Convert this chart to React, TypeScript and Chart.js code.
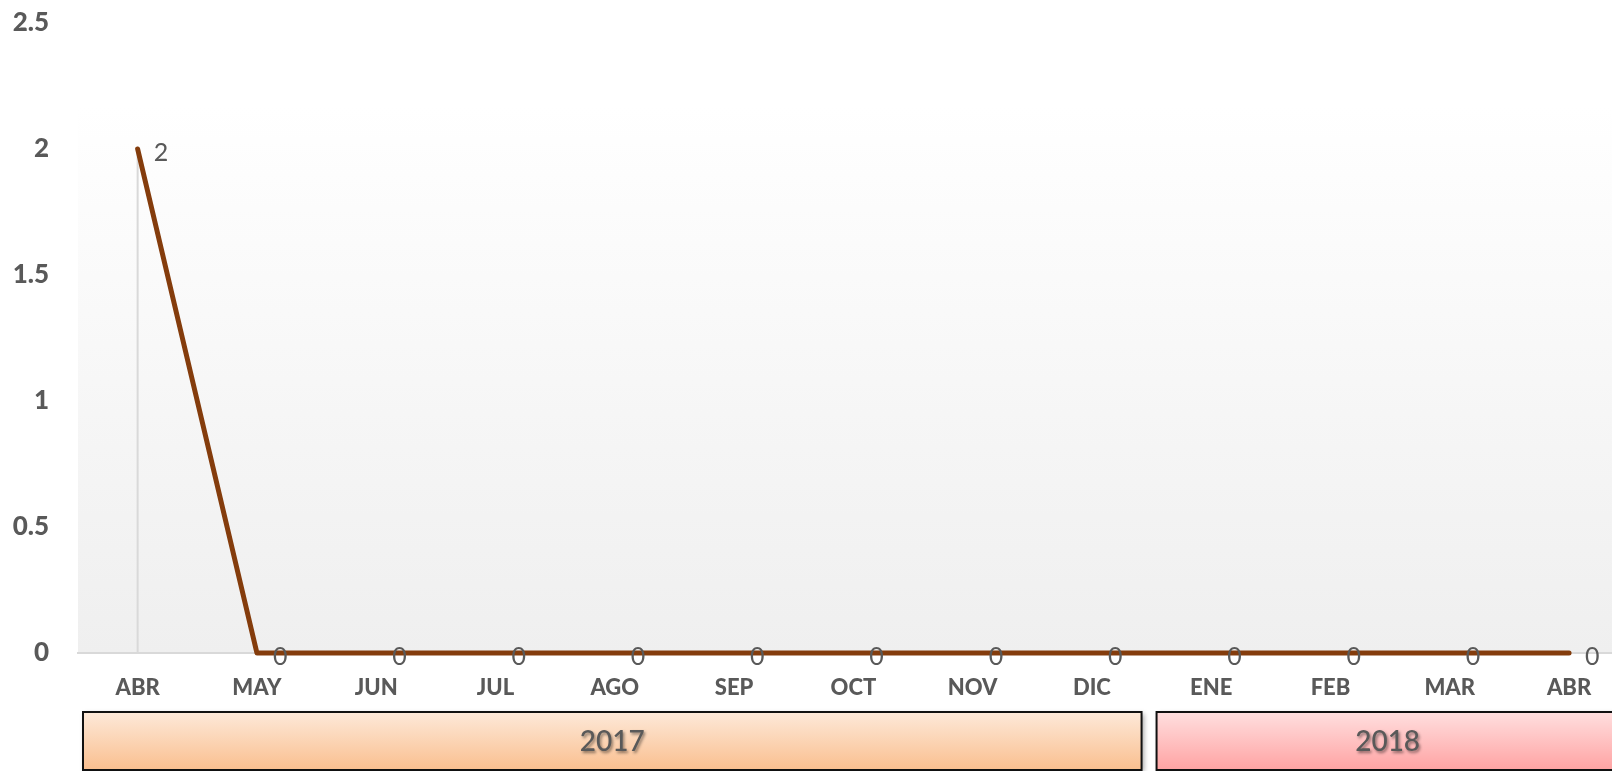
import React, { useEffect, useRef } from "react";
import { Chart, registerables } from "chart.js";

Chart.register(...registerables);

const months = ["ABR", "MAY", "JUN", "JUL", "AGO", "SEP", "OCT", "NOV", "DIC", "ENE", "FEB", "MAR", "ABR"];
const values = [2, 0, 0, 0, 0, 0, 0, 0, 0, 0, 0, 0, 0];
const years = ["2017", "2018"];
const yearSpans = [9, 4];
const yTicks = [0, 0.5, 1, 1.5, 2, 2.5];

const FONT = "Lato, 'Open Sans', sans-serif";
const GRAY = "#595959";

const bgPlugin = {
  id: "bgPlugin",
  beforeDraw(chart: any) {
    const { ctx, chartArea, scales } = chart;
    const y = scales.y;
    const top = y.getPixelForValue(2.17);
    const bottom = y.getPixelForValue(0);
    const g = ctx.createLinearGradient(0, top, 0, bottom);
    g.addColorStop(0, "#ffffff");
    g.addColorStop(1, "#efefef");
    ctx.save();
    ctx.fillStyle = g;
    ctx.fillRect(chartArea.left, top, chartArea.right - chartArea.left, bottom - top);
    ctx.restore();
  },
};

const dropPlugin = {
  id: "dropPlugin",
  beforeDatasetsDraw(chart: any) {
    const { ctx, scales } = chart;
    const base = scales.y.getPixelForValue(0);
    const meta = chart.getDatasetMeta(0);
    ctx.save();
    ctx.strokeStyle = "#d9d9d9";
    ctx.lineWidth = 2;
    meta.data.forEach((p: any) => {
      if (Math.abs(p.y - base) > 0.5) {
        ctx.beginPath();
        ctx.moveTo(p.x, p.y);
        ctx.lineTo(p.x, base);
        ctx.stroke();
      }
    });
    ctx.restore();
  },
};

const labelPlugin = {
  id: "labelPlugin",
  afterDatasetsDraw(chart: any) {
    const { ctx } = chart;
    const meta = chart.getDatasetMeta(0);
    ctx.save();
    ctx.fillStyle = GRAY;
    ctx.font = `400 25px ${FONT}`;
    ctx.textAlign = "left";
    ctx.textBaseline = "middle";
    meta.data.forEach((p: any, i: number) => {
      ctx.fillText(String(values[i]), p.x + 16, p.y + 4);
    });
    ctx.restore();
  },
};

const yearPlugin = {
  id: "yearPlugin",
  afterDraw(chart: any) {
    const { ctx, scales } = chart;
    const x = scales.x;
    const top = x.top + 59;
    const bottom = chart.height - 1;
    const fills = [
      ["#fde9d9", "#fabf8f"],
      ["#ffdfdf", "#ffa3a3"],
    ];
    let start = 0;
    years.forEach((yr, i) => {
      const end = start + yearSpans[i];
      const left = x.getPixelForValue(start - 0.5) + 5;
      const right = x.getPixelForValue(end - 0.5) - 10;
      const g = ctx.createLinearGradient(0, top, 0, bottom);
      g.addColorStop(0, fills[i][0]);
      g.addColorStop(1, fills[i][1]);
      ctx.save();
      ctx.shadowColor = "rgba(0,0,0,0.35)";
      ctx.shadowBlur = 5;
      ctx.shadowOffsetX = 2;
      ctx.shadowOffsetY = 2;
      ctx.fillStyle = g;
      ctx.fillRect(left, top, right - left, bottom - top);
      ctx.restore();
      ctx.save();
      ctx.strokeStyle = "#111111";
      ctx.lineWidth = 2;
      ctx.strokeRect(left, top, right - left, bottom - top);
      ctx.restore();
      ctx.save();
      ctx.shadowColor = "rgba(0,0,0,0.45)";
      ctx.shadowBlur = 3;
      ctx.shadowOffsetX = 1.5;
      ctx.shadowOffsetY = 1.5;
      ctx.fillStyle = GRAY;
      ctx.font = `500 28px ${FONT}`;
      ctx.textAlign = "center";
      ctx.textBaseline = "middle";
      ctx.fillText(yr, (left + right) / 2, (top + bottom) / 2 + 1);
      ctx.restore();
      start = end;
    });
  },
};

export default function App() {
  const ref = useRef<HTMLCanvasElement | null>(null);
  useEffect(() => {
    document.body.style.margin = "0";
    const canvas = ref.current!;
    const chart = new Chart(canvas, {
      type: "line",
      data: {
        datasets: [
          {
            data: values.map((v, i) => ({ x: i, y: v })),
            borderColor: "#843c0c",
            borderWidth: 5,
            borderCapStyle: "round",
            borderJoinStyle: "round",
            pointRadius: 0,
            tension: 0,
            fill: false,
            clip: false,
          },
        ],
      },
      options: {
        responsive: false,
        animation: false,
        layout: { padding: { top: 23, left: 0, right: 0, bottom: 0 } },
        plugins: { legend: { display: false }, tooltip: { enabled: false } },
        scales: {
          x: {
            type: "linear",
            min: -0.5,
            max: 12.36,
            afterBuildTicks: (s: any) => {
              s.ticks = months.map((_, i) => ({ value: i }));
            },
            afterFit: (s: any) => {
              s.height = 118;
              s.paddingLeft = 0;
              s.paddingRight = 0;
            },
            grid: { display: false, drawTicks: false },
            border: { display: true, color: "#d9d9d9", width: 2 },
            ticks: {
              autoSkip: false,
              maxRotation: 0,
              padding: 22,
              color: GRAY,
              font: { family: FONT, size: 22, weight: "900" },
              callback: (v: any) => months[v] ?? "",
            },
          },
          y: {
            min: 0,
            max: 2.5,
            afterBuildTicks: (s: any) => {
              s.ticks = yTicks.map((v) => ({ value: v }));
            },
            afterFit: (s: any) => {
              s.width = 78;
              s.paddingTop = 0;
              s.paddingBottom = 0;
            },
            grid: { display: false, drawTicks: false },
            border: { display: false },
            ticks: {
              padding: 29,
              color: GRAY,
              font: { family: FONT, size: 26, weight: "900" },
              callback: (v: any) => String(v),
            },
          },
        },
      },
      plugins: [bgPlugin, dropPlugin, labelPlugin, yearPlugin],
    } as any);
    return () => chart.destroy();
  }, []);
  return (
    <div style={{ width: 1612, height: 771, overflow: "hidden" }}>
      <canvas ref={ref} width={1612} height={771} style={{ display: "block" }} />
    </div>
  );
}
